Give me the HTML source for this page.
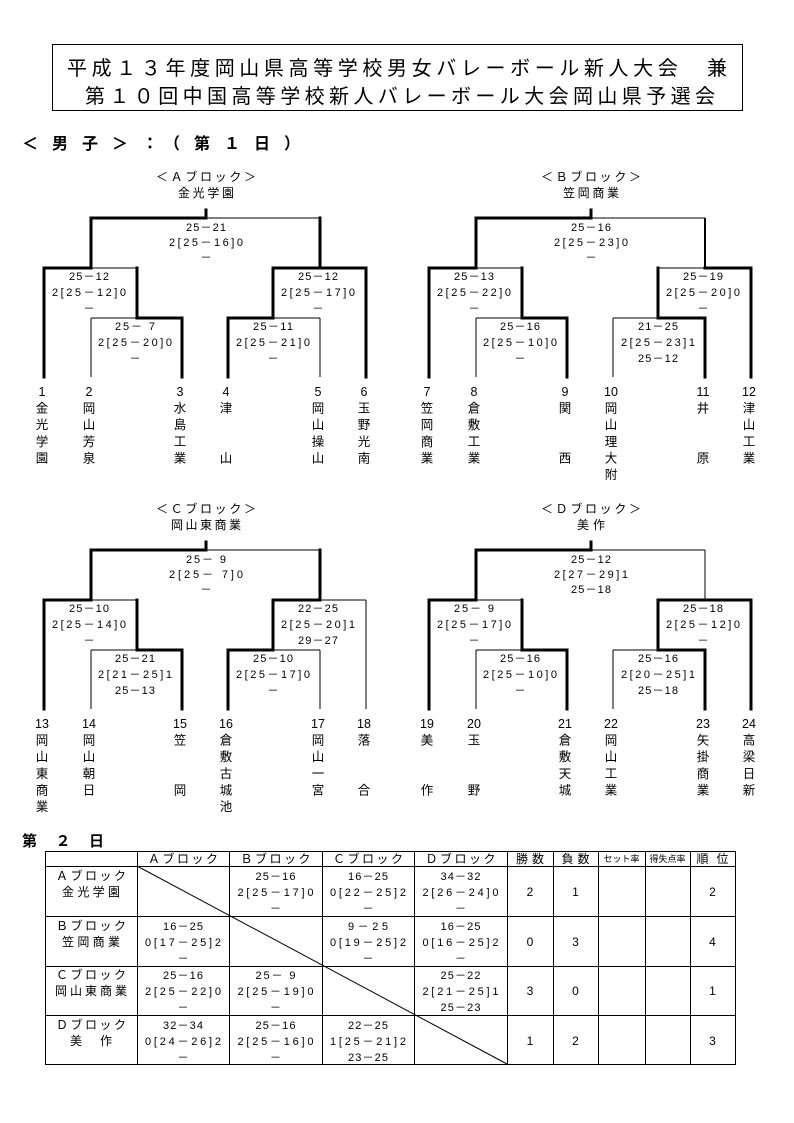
<!DOCTYPE html>
<html><head><meta charset="utf-8"><style>
html,body{margin:0;padding:0;background:#fff}
svg{display:block}
text{font-family:"Liberation Sans","Noto Sans CJK JP",sans-serif;fill:#000}
.s{font-size:11px;text-anchor:middle}
.t{font-size:12px;text-anchor:middle}
.n{font-size:12.5px;text-anchor:middle}
.k{stroke:#000;stroke-width:3;fill:none;stroke-linecap:square}
.l{stroke:#000;stroke-width:1;fill:none}
</style></head><body>
<svg width="794" height="1123" viewBox="0 0 794 1123" xmlns="http://www.w3.org/2000/svg">
<rect x="52.5" y="44.5" width="690" height="66" fill="none" stroke="#000"/>
<text x="397" y="75" font-size="20" text-anchor="middle" textLength="660" lengthAdjust="spacing">平成１３年度岡山県高等学校男女バレーボール新人大会　兼</text>
<text x="400" y="103" font-size="20" text-anchor="middle" textLength="630" lengthAdjust="spacing">第１０回中国高等学校新人バレーボール大会岡山県予選会</text>
<text x="22" y="149" font-size="16" font-weight="bold" textLength="278" lengthAdjust="spacing">＜男子＞：（第１日）</text>

<!-- Block A -->
<g>
<text class="t" x="206" y="181" textLength="100" lengthAdjust="spacing">＜Ａブロック＞</text>
<text class="t" x="206" y="197" textLength="56" lengthAdjust="spacing">金光学園</text>
<path class="k" d="M206 210V218M91 218H206M91 218V268M320 218V268M44 268H91M44 268V377M137 268V318M137 318H182M182 318V377M273 268H366M273 268V318M366 268V377M228 318H273M228 318V377"/>
<path class="l" d="M206 218H320M91 268H137M91 318H137M91 318V377M273 318H320M320 318V377"/>
<text class="s" x="206" y="231" textLength="40" lengthAdjust="spacing">25－21</text><text class="s" x="206" y="246" textLength="74" lengthAdjust="spacing">2[25－16]0</text><text class="s" x="206" y="261">－</text>
<text class="s" x="89" y="280" textLength="40" lengthAdjust="spacing">25－12</text><text class="s" x="89" y="296" textLength="74" lengthAdjust="spacing">2[25－12]0</text><text class="s" x="89" y="312">－</text>
<text class="s" x="135" y="330" textLength="40" lengthAdjust="spacing">25－ 7</text><text class="s" x="135" y="346" textLength="74" lengthAdjust="spacing">2[25－20]0</text><text class="s" x="135" y="362">－</text>
<text class="s" x="318" y="280" textLength="40" lengthAdjust="spacing">25－12</text><text class="s" x="318" y="296" textLength="74" lengthAdjust="spacing">2[25－17]0</text><text class="s" x="318" y="312">－</text>
<text class="s" x="273" y="330" textLength="40" lengthAdjust="spacing">25－11</text><text class="s" x="273" y="346" textLength="74" lengthAdjust="spacing">2[25－21]0</text><text class="s" x="273" y="362">－</text>
<text class="n" x="42" y="396">1<tspan x="42" dy="16.6">金</tspan><tspan x="42" dy="16.6">光</tspan><tspan x="42" dy="16.6">学</tspan><tspan x="42" dy="16.6">園</tspan></text>
<text class="n" x="89" y="396">2<tspan x="89" dy="16.6">岡</tspan><tspan x="89" dy="16.6">山</tspan><tspan x="89" dy="16.6">芳</tspan><tspan x="89" dy="16.6">泉</tspan></text>
<text class="n" x="180" y="396">3<tspan x="180" dy="16.6">水</tspan><tspan x="180" dy="16.6">島</tspan><tspan x="180" dy="16.6">工</tspan><tspan x="180" dy="16.6">業</tspan></text>
<text class="n" x="226" y="396">4<tspan x="226" dy="16.6">津</tspan><tspan x="226" dy="49.8">山</tspan></text>
<text class="n" x="318" y="396">5<tspan x="318" dy="16.6">岡</tspan><tspan x="318" dy="16.6">山</tspan><tspan x="318" dy="16.6">操</tspan><tspan x="318" dy="16.6">山</tspan></text>
<text class="n" x="364" y="396">6<tspan x="364" dy="16.6">玉</tspan><tspan x="364" dy="16.6">野</tspan><tspan x="364" dy="16.6">光</tspan><tspan x="364" dy="16.6">南</tspan></text>
</g>

<!-- Block B -->
<g transform="translate(385,0)">
<text class="t" x="206" y="181" textLength="100" lengthAdjust="spacing">＜Ｂブロック＞</text>
<text class="t" x="206" y="197" textLength="56" lengthAdjust="spacing">笠岡商業</text>
<path class="k" d="M206 210V218M91 218H206M91 218V268M44 268H91M44 268V377M137 268V318M137 318H182M182 318V377M320 268H366M273 268V318M366 268V377M273 318H320M320 318V377"/>
<path class="l" d="M206 218H320M91 268H137M91 318H137M91 318V377M273 268H320M228 318H273M228 318V377"/>
<path d="M320 218V268" stroke="#000" stroke-width="2"/>
<text class="s" x="206" y="231" textLength="40" lengthAdjust="spacing">25－16</text><text class="s" x="206" y="246" textLength="74" lengthAdjust="spacing">2[25－23]0</text><text class="s" x="206" y="261">－</text>
<text class="s" x="89" y="280" textLength="40" lengthAdjust="spacing">25－13</text><text class="s" x="89" y="296" textLength="74" lengthAdjust="spacing">2[25－22]0</text><text class="s" x="89" y="312">－</text>
<text class="s" x="135" y="330" textLength="40" lengthAdjust="spacing">25－16</text><text class="s" x="135" y="346" textLength="74" lengthAdjust="spacing">2[25－10]0</text><text class="s" x="135" y="362">－</text>
<text class="s" x="318" y="280" textLength="40" lengthAdjust="spacing">25－19</text><text class="s" x="318" y="296" textLength="74" lengthAdjust="spacing">2[25－20]0</text><text class="s" x="318" y="312">－</text>
<text class="s" x="273" y="330" textLength="40" lengthAdjust="spacing">21－25</text><text class="s" x="273" y="346" textLength="74" lengthAdjust="spacing">2[25－23]1</text><text class="s" x="273" y="362" textLength="40" lengthAdjust="spacing">25－12</text>
<text class="n" x="42" y="396">7<tspan x="42" dy="16.6">笠</tspan><tspan x="42" dy="16.6">岡</tspan><tspan x="42" dy="16.6">商</tspan><tspan x="42" dy="16.6">業</tspan></text>
<text class="n" x="89" y="396">8<tspan x="89" dy="16.6">倉</tspan><tspan x="89" dy="16.6">敷</tspan><tspan x="89" dy="16.6">工</tspan><tspan x="89" dy="16.6">業</tspan></text>
<text class="n" x="180" y="396">9<tspan x="180" dy="16.6">関</tspan><tspan x="180" dy="49.8">西</tspan></text>
<text class="n" x="226" y="396">10<tspan x="226" dy="16.6">岡</tspan><tspan x="226" dy="16.6">山</tspan><tspan x="226" dy="16.6">理</tspan><tspan x="226" dy="16.6">大</tspan><tspan x="226" dy="16.6">附</tspan></text>
<text class="n" x="318" y="396">11<tspan x="318" dy="16.6">井</tspan><tspan x="318" dy="49.8">原</tspan></text>
<text class="n" x="364" y="396">12<tspan x="364" dy="16.6">津</tspan><tspan x="364" dy="16.6">山</tspan><tspan x="364" dy="16.6">工</tspan><tspan x="364" dy="16.6">業</tspan></text>
</g>

<!-- Block C -->
<g transform="translate(0,332)">
<text class="t" x="206" y="181" textLength="100" lengthAdjust="spacing">＜Ｃブロック＞</text>
<text class="t" x="206" y="197" textLength="70" lengthAdjust="spacing">岡山東商業</text>
<path class="k" d="M206 210V218M91 218H206M91 218V268M320 218V268M44 268H91M44 268V377M137 268V318M137 318H182M182 318V377M273 268H320M273 268V318M228 318H273M228 318V377"/>
<path class="l" d="M206 218H320M91 268H137M91 318H137M91 318V377M320 268H366M366 268V377M273 318H320M320 318V377"/>
<text class="s" x="206" y="231" textLength="40" lengthAdjust="spacing">25－ 9</text><text class="s" x="206" y="246" textLength="74" lengthAdjust="spacing">2[25－ 7]0</text><text class="s" x="206" y="261">－</text>
<text class="s" x="89" y="280" textLength="40" lengthAdjust="spacing">25－10</text><text class="s" x="89" y="296" textLength="74" lengthAdjust="spacing">2[25－14]0</text><text class="s" x="89" y="312">－</text>
<text class="s" x="135" y="330" textLength="40" lengthAdjust="spacing">25－21</text><text class="s" x="135" y="346" textLength="74" lengthAdjust="spacing">2[21－25]1</text><text class="s" x="135" y="362" textLength="40" lengthAdjust="spacing">25－13</text>
<text class="s" x="318" y="280" textLength="40" lengthAdjust="spacing">22－25</text><text class="s" x="318" y="296" textLength="74" lengthAdjust="spacing">2[25－20]1</text><text class="s" x="318" y="312" textLength="40" lengthAdjust="spacing">29－27</text>
<text class="s" x="273" y="330" textLength="40" lengthAdjust="spacing">25－10</text><text class="s" x="273" y="346" textLength="74" lengthAdjust="spacing">2[25－17]0</text><text class="s" x="273" y="362">－</text>
<text class="n" x="42" y="396">13<tspan x="42" dy="16.6">岡</tspan><tspan x="42" dy="16.6">山</tspan><tspan x="42" dy="16.6">東</tspan><tspan x="42" dy="16.6">商</tspan><tspan x="42" dy="16.6">業</tspan></text>
<text class="n" x="89" y="396">14<tspan x="89" dy="16.6">岡</tspan><tspan x="89" dy="16.6">山</tspan><tspan x="89" dy="16.6">朝</tspan><tspan x="89" dy="16.6">日</tspan></text>
<text class="n" x="180" y="396">15<tspan x="180" dy="16.6">笠</tspan><tspan x="180" dy="49.8">岡</tspan></text>
<text class="n" x="226" y="396">16<tspan x="226" dy="16.6">倉</tspan><tspan x="226" dy="16.6">敷</tspan><tspan x="226" dy="16.6">古</tspan><tspan x="226" dy="16.6">城</tspan><tspan x="226" dy="16.6">池</tspan></text>
<text class="n" x="318" y="396">17<tspan x="318" dy="16.6">岡</tspan><tspan x="318" dy="16.6">山</tspan><tspan x="318" dy="16.6">一</tspan><tspan x="318" dy="16.6">宮</tspan></text>
<text class="n" x="364" y="396">18<tspan x="364" dy="16.6">落</tspan><tspan x="364" dy="49.8">合</tspan></text>
</g>

<!-- Block D -->
<g transform="translate(385,332)">
<text class="t" x="206" y="181" textLength="100" lengthAdjust="spacing">＜Ｄブロック＞</text>
<text class="t" x="206" y="197" textLength="28" lengthAdjust="spacing">美作</text>
<path class="k" d="M206 210V218M91 218H206M91 218V268M44 268H91M44 268V377M137 268V318M137 318H182M182 318V377M273 268H366M273 268V318M366 268V377M273 318H320M320 318V377"/>
<path class="l" d="M206 218H320M320 218V268M91 268H137M91 318H137M91 318V377M228 318H273M228 318V377"/>
<text class="s" x="206" y="231" textLength="40" lengthAdjust="spacing">25－12</text><text class="s" x="206" y="246" textLength="74" lengthAdjust="spacing">2[27－29]1</text><text class="s" x="206" y="261" textLength="40" lengthAdjust="spacing">25－18</text>
<text class="s" x="89" y="280" textLength="40" lengthAdjust="spacing">25－ 9</text><text class="s" x="89" y="296" textLength="74" lengthAdjust="spacing">2[25－17]0</text><text class="s" x="89" y="312">－</text>
<text class="s" x="135" y="330" textLength="40" lengthAdjust="spacing">25－16</text><text class="s" x="135" y="346" textLength="74" lengthAdjust="spacing">2[25－10]0</text><text class="s" x="135" y="362">－</text>
<text class="s" x="318" y="280" textLength="40" lengthAdjust="spacing">25－18</text><text class="s" x="318" y="296" textLength="74" lengthAdjust="spacing">2[25－12]0</text><text class="s" x="318" y="312">－</text>
<text class="s" x="273" y="330" textLength="40" lengthAdjust="spacing">25－16</text><text class="s" x="273" y="346" textLength="74" lengthAdjust="spacing">2[20－25]1</text><text class="s" x="273" y="362" textLength="40" lengthAdjust="spacing">25－18</text>
<text class="n" x="42" y="396">19<tspan x="42" dy="16.6">美</tspan><tspan x="42" dy="49.8">作</tspan></text>
<text class="n" x="89" y="396">20<tspan x="89" dy="16.6">玉</tspan><tspan x="89" dy="49.8">野</tspan></text>
<text class="n" x="180" y="396">21<tspan x="180" dy="16.6">倉</tspan><tspan x="180" dy="16.6">敷</tspan><tspan x="180" dy="16.6">天</tspan><tspan x="180" dy="16.6">城</tspan></text>
<text class="n" x="226" y="396">22<tspan x="226" dy="16.6">岡</tspan><tspan x="226" dy="16.6">山</tspan><tspan x="226" dy="16.6">工</tspan><tspan x="226" dy="16.6">業</tspan></text>
<text class="n" x="318" y="396">23<tspan x="318" dy="16.6">矢</tspan><tspan x="318" dy="16.6">掛</tspan><tspan x="318" dy="16.6">商</tspan><tspan x="318" dy="16.6">業</tspan></text>
<text class="n" x="364" y="396">24<tspan x="364" dy="16.6">高</tspan><tspan x="364" dy="16.6">梁</tspan><tspan x="364" dy="16.6">日</tspan><tspan x="364" dy="16.6">新</tspan></text>
</g>

<!-- Day 2 table -->
<text x="22" y="846" font-size="15" font-weight="bold" textLength="82" lengthAdjust="spacing">第２日</text>
<g stroke="#000" stroke-width="1" fill="none">
<rect x="45.5" y="851.5" width="690" height="213"/>
<path d="M45 866.5H736M45 916.5H736M45 966.5H736M45 1015.5H736"/>
<path d="M137.5 851V1064M229.5 851V1064M322.5 851V1064M414.5 851V1064M507.5 851V1064M553.5 851V1064M598.5 851V1064M645.5 851V1064M690.5 851V1064"/>
<path d="M137 866L507 1064"/>
</g>
<g class="t">
<text class="t" x="183" y="863" textLength="70" lengthAdjust="spacing">Ａブロック</text>
<text class="t" x="275.5" y="863" textLength="70" lengthAdjust="spacing">Ｂブロック</text>
<text class="t" x="368" y="863" textLength="70" lengthAdjust="spacing">Ｃブロック</text>
<text class="t" x="460.5" y="863" textLength="70" lengthAdjust="spacing">Ｄブロック</text>
<text class="t" x="530" y="863" textLength="28" lengthAdjust="spacing">勝数</text>
<text class="t" x="575.5" y="863" textLength="28" lengthAdjust="spacing">負数</text>
<text x="621.5" y="862" font-size="9" text-anchor="middle" textLength="36" lengthAdjust="spacingAndGlyphs">セット率</text>
<text x="667.5" y="862" font-size="9" text-anchor="middle" textLength="36" lengthAdjust="spacingAndGlyphs">得失点率</text>
<text class="t" x="712.5" y="863" textLength="32" lengthAdjust="spacing">順位</text>
</g>
<!-- row 1 -->
<text class="t" x="91" y="880" textLength="70" lengthAdjust="spacing">Ａブロック</text>
<text class="t" x="91" y="896" textLength="58" lengthAdjust="spacing">金光学園</text>
<text class="s" x="275.5" y="880" textLength="40" lengthAdjust="spacing">25－16</text><text class="s" x="275.5" y="896" textLength="76" lengthAdjust="spacing">2[25－17]0</text><text class="s" x="275.5" y="912">－</text>
<text class="s" x="368" y="880" textLength="40" lengthAdjust="spacing">16－25</text><text class="s" x="368" y="896" textLength="76" lengthAdjust="spacing">0[22－25]2</text><text class="s" x="368" y="912">－</text>
<text class="s" x="460.5" y="880" textLength="40" lengthAdjust="spacing">34－32</text><text class="s" x="460.5" y="896" textLength="76" lengthAdjust="spacing">2[26－24]0</text><text class="s" x="460.5" y="912">－</text>
<text class="t" x="530" y="896">2</text><text class="t" x="575.5" y="896">1</text><text class="t" x="712.5" y="896">2</text>
<!-- row 2 -->
<text class="t" x="91" y="930" textLength="70" lengthAdjust="spacing">Ｂブロック</text>
<text class="t" x="91" y="946" textLength="58" lengthAdjust="spacing">笠岡商業</text>
<text class="s" x="183" y="930" textLength="40" lengthAdjust="spacing">16－25</text><text class="s" x="183" y="946" textLength="76" lengthAdjust="spacing">0[17－25]2</text><text class="s" x="183" y="962">－</text>
<text class="s" x="368" y="930" textLength="40" lengthAdjust="spacing"> 9－25</text><text class="s" x="368" y="946" textLength="76" lengthAdjust="spacing">0[19－25]2</text><text class="s" x="368" y="962">－</text>
<text class="s" x="460.5" y="930" textLength="40" lengthAdjust="spacing">16－25</text><text class="s" x="460.5" y="946" textLength="76" lengthAdjust="spacing">0[16－25]2</text><text class="s" x="460.5" y="962">－</text>
<text class="t" x="530" y="946">0</text><text class="t" x="575.5" y="946">3</text><text class="t" x="712.5" y="946">4</text>
<!-- row 3 -->
<text class="t" x="91" y="979" textLength="70" lengthAdjust="spacing">Ｃブロック</text>
<text class="t" x="91" y="995" textLength="72" lengthAdjust="spacing">岡山東商業</text>
<text class="s" x="183" y="979" textLength="40" lengthAdjust="spacing">25－16</text><text class="s" x="183" y="995" textLength="76" lengthAdjust="spacing">2[25－22]0</text><text class="s" x="183" y="1011">－</text>
<text class="s" x="275.5" y="979" textLength="40" lengthAdjust="spacing">25－ 9</text><text class="s" x="275.5" y="995" textLength="76" lengthAdjust="spacing">2[25－19]0</text><text class="s" x="275.5" y="1011">－</text>
<text class="s" x="460.5" y="979" textLength="40" lengthAdjust="spacing">25－22</text><text class="s" x="460.5" y="995" textLength="76" lengthAdjust="spacing">2[21－25]1</text><text class="s" x="460.5" y="1011" textLength="40" lengthAdjust="spacing">25－23</text>
<text class="t" x="530" y="995">3</text><text class="t" x="575.5" y="995">0</text><text class="t" x="712.5" y="995">1</text>
<!-- row 4 -->
<text class="t" x="91" y="1029" textLength="70" lengthAdjust="spacing">Ｄブロック</text>
<text class="t" x="91" y="1045" textLength="42" lengthAdjust="spacing">美　作</text>
<text class="s" x="183" y="1029" textLength="40" lengthAdjust="spacing">32－34</text><text class="s" x="183" y="1045" textLength="76" lengthAdjust="spacing">0[24－26]2</text><text class="s" x="183" y="1061">－</text>
<text class="s" x="275.5" y="1029" textLength="40" lengthAdjust="spacing">25－16</text><text class="s" x="275.5" y="1045" textLength="76" lengthAdjust="spacing">2[25－16]0</text><text class="s" x="275.5" y="1061">－</text>
<text class="s" x="368" y="1029" textLength="40" lengthAdjust="spacing">22－25</text><text class="s" x="368" y="1045" textLength="76" lengthAdjust="spacing">1[25－21]2</text><text class="s" x="368" y="1061" textLength="40" lengthAdjust="spacing">23－25</text>
<text class="t" x="530" y="1045">1</text><text class="t" x="575.5" y="1045">2</text><text class="t" x="712.5" y="1045">3</text>
</svg>
</body></html>
